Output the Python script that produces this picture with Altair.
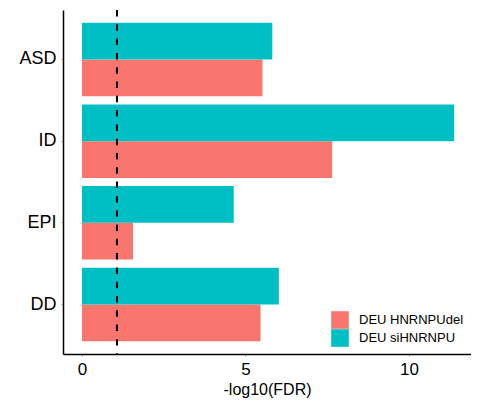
import altair as alt
import pandas as pd

categories = ["ASD", "ID", "EPI", "DD"]
series = ["DEU HNRNPUdel", "DEU siHNRNPU"]
hnrnpudel = [5.52, 7.65, 1.56, 5.46]
sihnrnpu = [5.82, 11.38, 4.64, 6.02]
threshold = [1.07]
colors = ["#F8766D", "#00BFC4"]
x_ticks = [0, 5, 10]

rows = []
for c, a, b in zip(categories, hnrnpudel, sihnrnpu):
    rows.append({"cat": c, "series": series[0], "value": a})
    rows.append({"cat": c, "series": series[1], "value": b})
df = pd.DataFrame(rows)
thr = pd.DataFrame({"t": threshold})

FONT = "Liberation Sans"
xscale = alt.Scale(domain=[-0.58, 11.895], nice=False, zero=False)

bars = alt.Chart(df).mark_bar().encode(
    y=alt.Y("cat:N", sort=categories,
            scale=alt.Scale(paddingInner=0.1, paddingOuter=0.155),
            axis=alt.Axis(title=None, labelFontSize=18, labelColor="black",
                          labelPadding=5, tickSize=2, tickColor="#aaaaaa",
                          domainColor="black", domainWidth=1.5, labelFont=FONT)),
    yOffset=alt.YOffset("series:N", sort=[series[1], series[0]],
                        scale=alt.Scale(paddingInner=0, paddingOuter=0)),
    x=alt.X("value:Q", scale=xscale,
            axis=alt.Axis(title="-log10(FDR)", values=x_ticks, grid=False,
                          labelFontSize=17, labelColor="black", labelPadding=5,
                          tickSize=2, tickColor="#aaaaaa", domainColor="black",
                          domainWidth=1.5, titleFontSize=16,
                          titleFontWeight="normal", titleColor="black",
                          titlePadding=4, labelFont=FONT, titleFont=FONT)),
    x2=alt.datum(0),
    color=alt.Color("series:N", sort=series,
                    scale=alt.Scale(domain=series, range=colors),
                    legend=alt.Legend(title=None, orient="none", legendX=268,
                                      legendY=301, symbolType="square",
                                      symbolSize=310, symbolStrokeWidth=0,
                                      symbolOpacity=1, labelFontSize=13,
                                      labelFont=FONT, labelColor="black",
                                      rowPadding=0, labelOffset=10)),
)

rule = alt.Chart(thr).mark_rule(color="black", strokeWidth=2,
                                strokeDash=[6.5, 7.8]).encode(
    x=alt.X("t:Q", scale=xscale),
    y=alt.value(0), y2=alt.value(344),
)

chart = alt.layer(bars, rule).properties(
    width=408, height=344,
    autosize=alt.AutoSizeParams(type="none"),
    padding={"left": 55, "top": 2, "right": 0, "bottom": 46},
).configure_view(stroke=None)

chart.save("out.html", embed_options={"renderer": "svg", "actions": False})
